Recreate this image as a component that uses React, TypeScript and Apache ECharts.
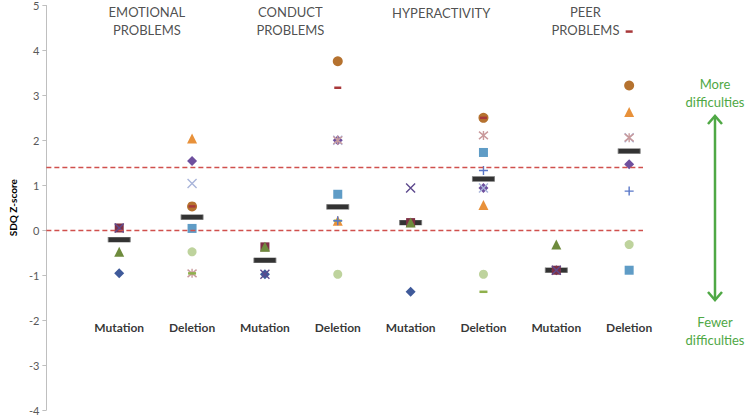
import React, { useEffect, useRef } from "react";
import * as echarts from "echarts";

const categories = ["Mutation", "Deletion", "Mutation", "Deletion", "Mutation", "Deletion", "Mutation", "Deletion"];
const categoryX = [1, 2, 3, 4, 5, 6, 7, 8];
const domains = ["EMOTIONAL\nPROBLEMS", "CONDUCT\nPROBLEMS", "HYPERACTIVITY", "PEER\nPROBLEMS"];
const domainX = [1.38, 3.35, 5.42, 7.4];
const domainY = [4.65, 4.65, 4.84, 4.65];
const yTicks = { min: -4, max: 5, interval: 1 };
const thresholds = [0, 1.4];

const means = [-0.21, 0.29, -0.67, 0.52, 0.17, 1.14, -0.89, 1.76];

// Mutation patients
const blueDiamond = [-0.96, null, -0.98, null, -1.37, null, -0.89, null];
const maroonSquare = [0.05, null, -0.37, null, 0.17, null, -0.89, null];
const oliveTriangle = [-0.48, null, -0.37, null, 0.17, null, -0.32, null];
const purpleX = [0.05, null, -0.98, null, 0.94, null, -0.89, null];

// Deletion patients
const orangeTriangle = [null, 2.04, null, 0.21, null, 0.56, null, 2.63];
const violetDiamond = [null, 1.54, null, 2.0, null, 0.94, null, 1.47];
const lavenderX = [null, 1.04, null, 2.0, null, 0.94, null, 2.06];
const blueSquare = [null, 0.04, null, 0.8, null, 1.73, null, -0.89];
const lightGreenCircle = [null, -0.48, null, -0.98, null, -0.98, null, -0.32];
const pinkAsterisk = [null, -0.96, null, 2.0, null, 2.11, null, 2.06];
const greenDash = [null, -0.96, null, 0.21, null, -1.37, null, null];
const bluePlus = [null, null, null, 0.21, null, 1.33, null, 0.87];
const brownCircle = [null, 0.53, null, 3.76, null, 2.5, null, 3.22];
const redDash = [null, 0.53, null, 3.17, null, 2.5, null, 4.42];

const X_PATH = "path://M0,0L10,10M10,0L0,10";
const AST_PATH = "path://M0,0L10,10M10,0L0,10M5,-1L5,11";
const PLUS_PATH = "path://M5,0L5,10M0,5L10,5";

function pts(vals: (number | null)[]) {
  const out: number[][] = [];
  vals.forEach((v, i) => {
    if (v !== null) out.push([categoryX[i], v]);
  });
  return out;
}

function filled(vals: (number | null)[], symbol: string, size: any, color: string) {
  return {
    type: "scatter",
    data: pts(vals),
    symbol,
    symbolSize: size,
    itemStyle: { color, opacity: 1 },
    z: 3,
  };
}

function stroked(vals: (number | null)[], symbol: string, size: number, color: string, w = 1.4) {
  return {
    type: "scatter",
    data: pts(vals),
    symbol,
    symbolSize: size,
    itemStyle: { color: "rgba(0,0,0,0)", borderColor: color, borderWidth: w, opacity: 1 },
    z: 3,
  };
}

const FONT = "Lato";

export default function App() {
  const ref = useRef<HTMLDivElement>(null);
  useEffect(() => {
    const chart = echarts.init(ref.current!, null, { renderer: "svg" });
    const green = "#4FA845";
    chart.setOption({
      animation: false,
      textStyle: { fontFamily: FONT },
      grid: { left: 33, right: 106, top: 5, bottom: 7 },
      xAxis: { type: "value", min: 0, max: 8.19, show: false },
      yAxis: {
        type: "value",
        min: yTicks.min,
        max: yTicks.max,
        interval: yTicks.interval,
        axisLine: { show: true, lineStyle: { color: "#BFBFBF", width: 1 } },
        axisTick: { show: true, length: 4, lineStyle: { color: "#BFBFBF" } },
        axisLabel: { color: "#595959", fontSize: 11, margin: 7, fontFamily: FONT },
        splitLine: { show: false },
        name: "SDQ Z-score",
        nameLocation: "middle",
        nameGap: 22,
        nameTextStyle: { fontWeight: "bold", fontSize: 10, color: "#000", fontFamily: FONT },
      },
      series: [
        {
          type: "scatter",
          data: means.map((m, i) => [categoryX[i], m]),
          symbol: "rect",
          symbolSize: [22, 5],
          itemStyle: { color: "#000", borderColor: "#777", borderWidth: 0.5 },
          z: 2,
          markLine: {
            silent: true,
            symbol: "none",
            label: { show: false },
            lineStyle: { color: "#D0504D", type: [5, 3], width: 1.3 },
            data: thresholds.map((t) => ({ yAxis: t })),
          },
        },
        filled(blueDiamond, "diamond", 10, "#3F5A9A"),
        filled(maroonSquare, "rect", 9, "#7E3045"),
        filled(oliveTriangle, "triangle", 10, "#6E8B3D"),
        stroked(purpleX, X_PATH, 9, "#5E4A8E"),
        filled(violetDiamond, "diamond", 10, "#6E4F9E"),
        filled(blueSquare, "rect", 9, "#5F9CC6"),
        filled(lightGreenCircle, "circle", 9, "#BED39D"),
        filled(orangeTriangle, "triangle", 10, "#E8913A"),
        stroked(lavenderX, X_PATH, 9, "#A9B5DA"),
        stroked(pinkAsterisk, AST_PATH, 9, "#C99A9C"),
        filled(greenDash, "rect", [8, 2.5], "#8FB04C"),
        stroked(bluePlus, PLUS_PATH, 9, "#5A78C9"),
        filled(brownCircle, "circle", 10, "#B5722F"),
        filled(redDash, "rect", [7, 2.5], "#A8383A"),
        {
          type: "scatter",
          data: categories.map((c, i) => ({ value: [categoryX[i], -2.17], name: c })),
          symbolSize: 0,
          itemStyle: { color: "transparent" },
          label: {
            show: true,
            position: "inside",
            formatter: "{b}",
            fontWeight: "bold",
            fontSize: 12,
            color: "#000",
            fontFamily: FONT,
          },
          z: 5,
        },
        {
          type: "scatter",
          data: domains.map((d, i) => ({ value: [domainX[i], domainY[i]], name: d })),
          symbolSize: 0,
          itemStyle: { color: "transparent" },
          label: {
            show: true,
            position: "inside",
            formatter: "{b}",
            fontSize: 13,
            lineHeight: 17.5,
            color: "#222",
            fontFamily: FONT,
          },
          z: 5,
        },
      ],
      graphic: [
        {
          type: "text",
          x: 715,
          y: 93,
          style: {
            text: "More\ndifficulties",
            fill: green,
            fontSize: 13,
            lineHeight: 18,
            fontFamily: FONT,
            align: "center",
            verticalAlign: "middle",
          },
        },
        {
          type: "text",
          x: 715,
          y: 331,
          style: {
            text: "Fewer\ndifficulties",
            fill: green,
            fontSize: 13,
            lineHeight: 18,
            fontFamily: FONT,
            align: "center",
            verticalAlign: "middle",
          },
        },
        {
          type: "line",
          shape: { x1: 715, y1: 116, x2: 715, y2: 300 },
          style: { stroke: green, lineWidth: 2.5 },
        },
        {
          type: "polyline",
          shape: { points: [[708, 124], [715, 116], [722, 124]] },
          style: { stroke: green, lineWidth: 2.5, fill: "none" },
        },
        {
          type: "polyline",
          shape: { points: [[708, 292], [715, 300], [722, 292]] },
          style: { stroke: green, lineWidth: 2.5, fill: "none" },
        },
      ],
    });
    return () => chart.dispose();
  }, []);
  return <div ref={ref} style={{ position: "absolute", left: 0, top: 0, width: 749, height: 417 }} />;
}
